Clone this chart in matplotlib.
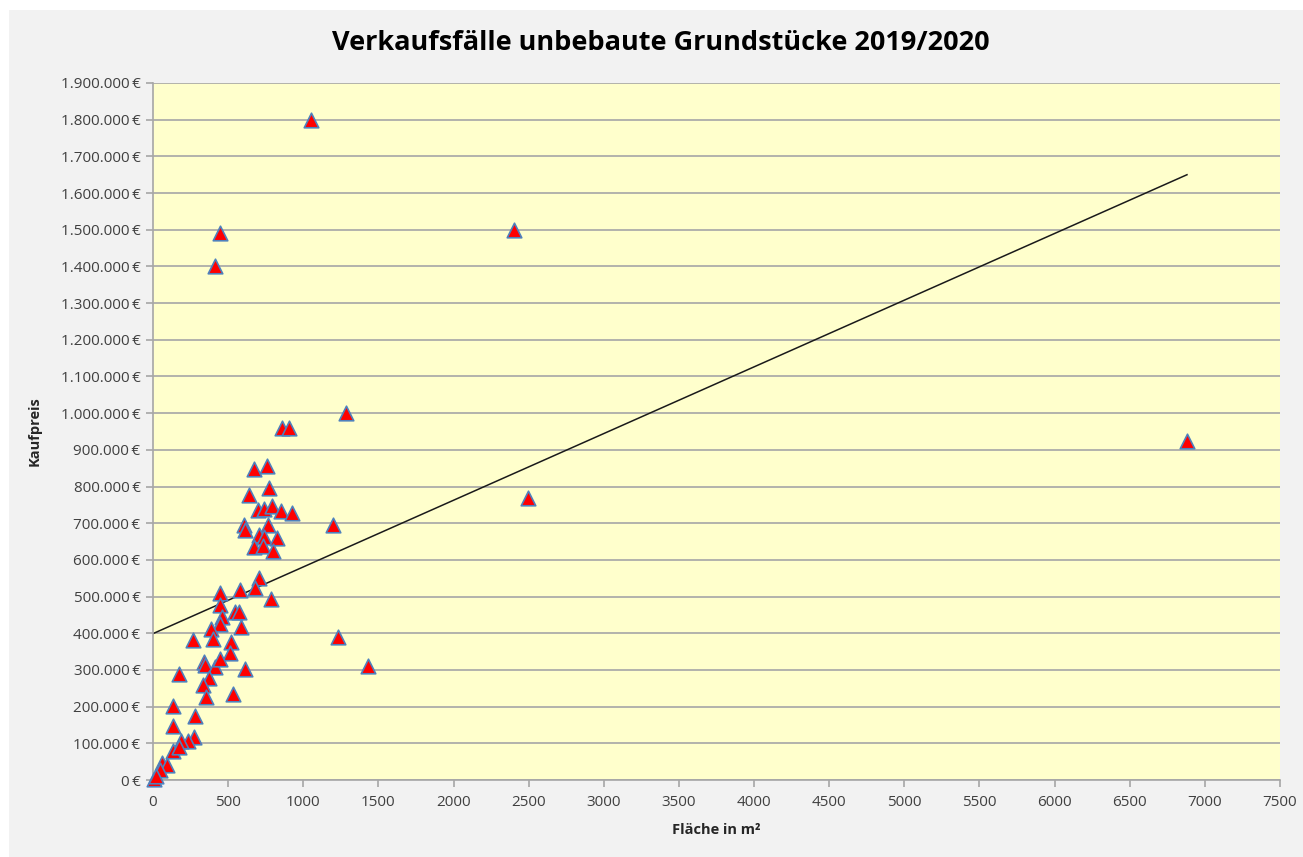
import matplotlib
matplotlib.use("Agg")
import matplotlib.pyplot as plt
import numpy as np
from matplotlib.ticker import FuncFormatter, MultipleLocator

title = "Verkaufsfälle unbebaute Grundstücke 2019/2020"
x_label = "Fläche in m²"
y_label = "Kaufpreis"

flaeche = [1051, 446, 413, 2402, 1284, 856, 905, 673, 756, 773, 638, 700, 740, 789,
           849, 927, 605, 611, 767, 1196, 2496, 6881, 705, 740, 822, 673, 733, 800,
           707, 678, 578, 449, 782, 449, 545, 571, 462, 449, 585, 385, 396, 267,
           522, 511, 340, 349, 411, 444, 1233, 1431, 171, 613, 371, 333, 351, 533,
           133, 278, 133, 271, 233, 189, 133, 173, 60, 93, 44, 5, 20]
kaufpreis = [1800000, 1490000, 1400000, 1500000, 1000000, 960000, 960000, 847000,
             855000, 795000, 777000, 735000, 738000, 747000, 732000, 729000, 695000,
             682000, 695000, 695000, 770000, 925000, 668000, 662000, 659000, 636000,
             638000, 625000, 550000, 523000, 518000, 509000, 493000, 477000, 459000,
             459000, 445000, 425000, 418000, 411000, 384000, 382000, 375000, 347000,
             323000, 314000, 309000, 329000, 390000, 310000, 289000, 302000, 277000,
             259000, 227000, 235000, 203000, 175000, 147000, 116000, 107000, 105000,
             80000, 91000, 45000, 41000, 27000, 2000, 10000]

# linear trendline as shown in the chart (intercept, slope per m²)
trend_intercept = 399000
trend_slope = 181.8

fig = plt.figure(figsize=(13.03, 8.57), dpi=100)
fig.patch.set_facecolor("white")
fig.add_artist(plt.Rectangle((9 / 1303, 0), 1 - 9 / 1303, 1 - 10 / 857,
                             transform=fig.transFigure, facecolor="#f2f2f2",
                             edgecolor="none", zorder=0))

ax = fig.add_axes([153 / 1303, 77 / 857, 1127 / 1303, 697 / 857])
ax.set_facecolor("#ffffcc")
ax.set_xlim(0, 7500)
ax.set_ylim(0, 1900000)
ax.xaxis.set_major_locator(MultipleLocator(500))
ax.yaxis.set_major_locator(MultipleLocator(100000))

def eur(v, pos):
    s = f"{int(round(v)):,}".replace(",", ".")
    return f"{s}\u2009€"

ax.yaxis.set_major_formatter(FuncFormatter(eur))
ax.xaxis.set_major_formatter(FuncFormatter(lambda v, p: f"{int(v)}"))
ax.grid(axis="y", color="#a6a6a6", linewidth=1.2)
ax.set_axisbelow(True)
for s in ["top", "right"]:
    ax.spines[s].set_visible(False)
for s in ["left", "bottom"]:
    ax.spines[s].set_color("#a6a6a6")
    ax.spines[s].set_linewidth(1.2)
ax.tick_params(axis="both", colors="#a6a6a6", labelcolor="#404040", labelsize=11,
               length=5, width=1.2, direction="out")
ax.tick_params(axis="x", pad=6)
ax.tick_params(axis="y", pad=4)
for lab in ax.get_xticklabels() + ax.get_yticklabels():
    lab.set_fontfamily(["Open Sans", "DejaVu Sans"])

x = np.array(flaeche, dtype=float)
y = np.array(kaufpreis, dtype=float)
xl = np.array([0, x.max()])
ax.plot(xl, trend_intercept + trend_slope * xl, color="#1a1a1a", linewidth=1.1, zorder=2)

ax.scatter(x, y, marker="^", s=110, facecolor="#ff0000", edgecolor="#4f81bd",
           linewidth=1.2, zorder=3, clip_on=False)

fig.text(661 / 1303, 1 - 43 / 857, title, ha="center", va="center", fontsize=19.5,
         fontweight="bold", family="Open Sans", color="black")
ax.set_xlabel(x_label, fontsize=10.5, fontweight="bold", family="Open Sans",
              color="#262626", labelpad=9)
ax.set_ylabel(y_label, fontsize=10.5, fontweight="bold", family="Open Sans",
              color="#262626", labelpad=14)

fig.savefig("out.png", dpi=100)
